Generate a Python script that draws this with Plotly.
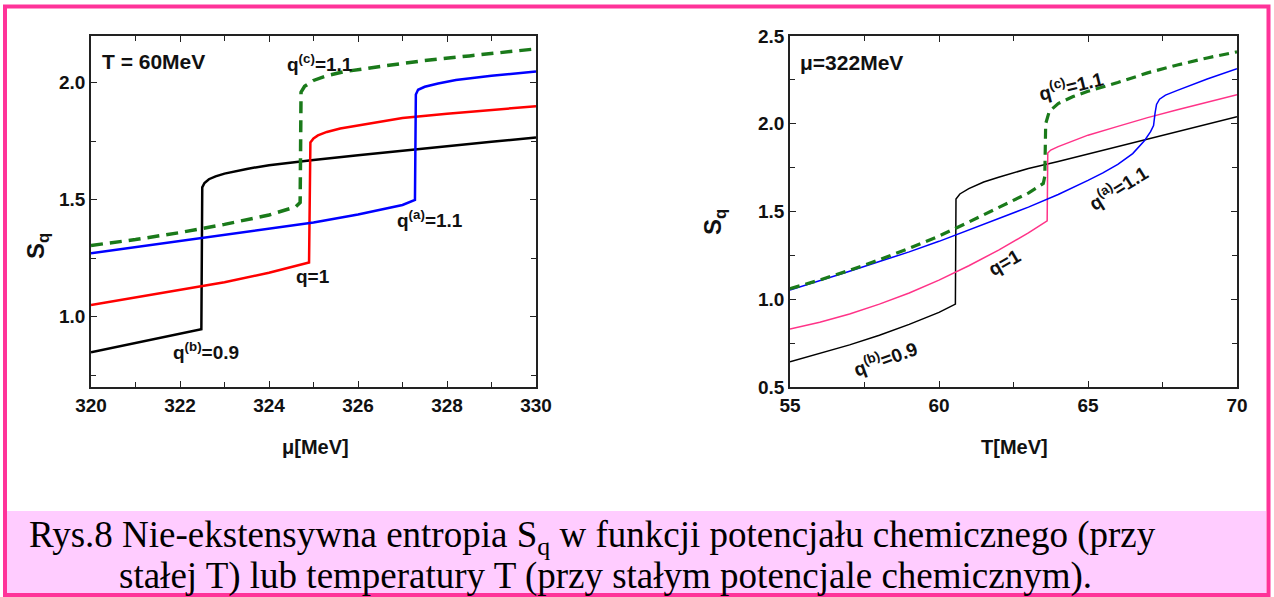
import plotly.graph_objects as go

# ---------------- data: left panel (T = 60 MeV), x = mu [MeV] ----------------
mu_b = [320, 320.5, 321, 321.5, 322, 322.48, 322.5, 322.55, 322.65, 322.8, 323, 323.5, 324, 324.5, 325, 326, 327, 328, 329, 330]
s_mu_b = [0.848, 0.868, 0.888, 0.907, 0.927, 0.947, 1.553, 1.572, 1.588, 1.600, 1.612, 1.632, 1.648, 1.660, 1.670, 1.690, 1.710, 1.728, 1.748, 1.766]

mu_1 = [320, 321, 322, 323, 324, 324.9, 324.93, 325, 325.1, 325.3, 325.6, 326, 327, 328, 329, 330]
s_mu_1 = [1.05, 1.083, 1.113, 1.148, 1.188, 1.232, 1.745, 1.762, 1.775, 1.79, 1.805, 1.818, 1.85, 1.868, 1.885, 1.90]

mu_a = [320, 321, 322, 323, 324, 325, 326, 327, 327.28, 327.3, 327.35, 327.5, 327.8, 328.2, 329, 330]
s_mu_a = [1.272, 1.298, 1.322, 1.348, 1.374, 1.403, 1.437, 1.478, 1.500, 1.950, 1.970, 1.983, 1.997, 2.012, 2.030, 2.048]

mu_c = [320, 321, 322, 323, 324, 324.6, 324.7, 324.72, 324.8, 325, 325.3, 325.7, 326.5, 327.5, 328.5, 330]
s_mu_c = [1.305, 1.33, 1.36, 1.395, 1.435, 1.47, 1.488, 1.96, 1.985, 2.01, 2.03, 2.048, 2.07, 2.095, 2.115, 2.145]

# ---------------- data: right panel (mu = 322 MeV), x = T [MeV] ----------------
t_b = [55, 56, 57, 58, 59, 60, 60.55, 60.57, 60.7, 61, 61.5, 62, 63, 64, 65, 66, 67, 68, 69, 70]
s_t_b = [0.644, 0.69, 0.74, 0.795, 0.857, 0.925, 0.972, 1.571, 1.60, 1.63, 1.668, 1.695, 1.745, 1.785, 1.828, 1.87, 1.915, 1.956, 1.997, 2.04]

t_1 = [55, 56, 57, 58, 59, 60, 61, 62, 63, 63.63, 63.65, 63.75, 64, 64.3, 65, 66, 67, 68, 69, 70]
s_t_1 = [0.831, 0.869, 0.916, 0.972, 1.036, 1.109, 1.191, 1.280, 1.378, 1.447, 1.833, 1.85, 1.87, 1.89, 1.935, 1.985, 2.035, 2.08, 2.125, 2.166]

t_a = [55, 56, 57, 58, 59, 60, 61, 62, 63, 64, 64.5, 65, 65.5, 66, 66.5, 66.9, 67.1, 67.2, 67.25, 67.3, 67.4, 67.6, 68, 69, 70]
s_t_a = [1.053, 1.105, 1.16, 1.215, 1.27, 1.33, 1.395, 1.46, 1.525, 1.597, 1.636, 1.677, 1.72, 1.768, 1.83, 1.905, 1.955, 1.99, 2.06, 2.11, 2.14, 2.163, 2.19, 2.255, 2.314]

t_c = [55, 56, 57, 58, 59, 60, 61, 62, 63, 63.5, 63.55, 63.58, 63.7, 64, 64.5, 65, 66, 67, 68, 69, 70]
s_t_c = [1.06, 1.11, 1.165, 1.225, 1.29, 1.36, 1.44, 1.52, 1.605, 1.66, 1.70, 2.0, 2.07, 2.115, 2.155, 2.185, 2.235, 2.29, 2.335, 2.375, 2.41]

W, H = 1274, 597
FONT = "Liberation Sans, Arial, sans-serif"
PINK = "#FF3399"

fig = go.Figure()

def add(x, y, color, width, xa, ya, dash=None):
    fig.add_trace(go.Scatter(x=x, y=y, mode="lines", xaxis=xa, yaxis=ya,
                             line=dict(color=color, width=width, dash=dash),
                             showlegend=False, hoverinfo="skip"))

# left
add(mu_b, s_mu_b, "#000000", 2.5, "x", "y")
add(mu_1, s_mu_1, "#FF0000", 2.5, "x", "y")
add(mu_a, s_mu_a, "#0000FF", 2.5, "x", "y")
add(mu_c, s_mu_c, "#1A7A1A", 3.5, "x", "y", dash="12px,7px")
# right
add(t_b, s_t_b, "#000000", 1.5, "x2", "y2")
add(t_1, s_t_1, "#FF3388", 1.5, "x2", "y2")
add(t_a, s_t_a, "#0000FF", 1.5, "x2", "y2")
add(t_c, s_t_c, "#1A7A1A", 3.2, "x2", "y2", dash="10px,6px")

def px(x):
    return x / W

def py(y):
    return 1 - y / H

axis_common = dict(showline=True, linecolor="#222", linewidth=1.5, mirror="ticks",
                   ticks="inside", ticklen=6, tickwidth=1.2, tickcolor="#222",
                   showgrid=False, zeroline=False, automargin=False,
                   tickfont=dict(family=FONT, size=19, color="#111", weight="bold"))

fig.update_layout(
    template="none",
    width=W, height=H, autosize=False,
    margin=dict(l=0, r=0, t=0, b=0, pad=0, autoexpand=False),
    showlegend=False,
    paper_bgcolor="white", plot_bgcolor="white",
    xaxis=dict(domain=[px(91), px(536)], range=[320, 330], dtick=2, tick0=320, anchor="y",
               minor=dict(dtick=1, ticks="inside", ticklen=5, tickcolor="#222"), **axis_common),
    yaxis=dict(domain=[py(387), py(36)], range=[0.7, 2.2], dtick=0.5, tick0=0, tickformat=".1f", anchor="x",
               minor=dict(dtick=0.25, ticks="inside", ticklen=5, tickcolor="#222"), **axis_common),
    xaxis2=dict(domain=[px(790), px(1237)], range=[55, 70], dtick=5, tick0=55, anchor="y2",
                minor=dict(dtick=2.5, ticks="inside", ticklen=5, tickcolor="#222"), **axis_common),
    yaxis2=dict(domain=[py(387), py(36)], range=[0.5, 2.5], dtick=0.5, tick0=0, tickformat=".1f", anchor="x2",
                minor=dict(dtick=0.25, ticks="inside", ticklen=5, tickcolor="#222"), **axis_common),
)

shapes = [
    # caption background
    dict(type="rect", xref="paper", yref="paper", x0=px(7), x1=px(1266), y0=py(594), y1=py(511),
         fillcolor="#FFCCFF", line=dict(width=0), layer="below"),
    # outer pink frame
    dict(type="rect", xref="paper", yref="paper", x0=px(5), x1=px(1268.5), y0=py(595), y1=py(6.5),
         line=dict(color=PINK, width=4), fillcolor="rgba(0,0,0,0)"),
]
fig.update_layout(shapes=shapes)

ann = []

def label(text, x, y, xref, yref, size=19, angle=0, xanchor="center"):
    ann.append(dict(text=text, x=x, y=y, xref=xref, yref=yref, showarrow=False,
                    textangle=angle, xanchor=xanchor, yanchor="middle",
                    font=dict(family=FONT, size=size, color="#111", weight="bold")))

SUP = "<sup>{}</sup>"

# left panel labels
label("T = 60MeV", 320.2, 2.09, "x", "y", size=21, xanchor="left")
label("q" + SUP.format("(c)") + "=1.1", 325.15, 2.085, "x", "y")
label("q" + SUP.format("(a)") + "=1.1", 327.62, 1.419, "x", "y")
label("q=1", 324.99, 1.171, "x", "y")
label("q" + SUP.format("(b)") + "=0.9", 322.58, 0.855, "x", "y")
# right panel labels
label("\u03bc=322MeV", 55.27, 2.348, "x2", "y2", size=21, xanchor="left")
label("q" + SUP.format("(c)") + "=1.1", 64.43, 2.223, "x2", "y2", angle=-14)
label("q" + SUP.format("(a)") + "=1.1", 66.01, 1.641, "x2", "y2", angle=-32)
label("q=1", 62.21, 1.207, "x2", "y2", angle=-30)
label("q" + SUP.format("(b)") + "=0.9", 58.19, 0.665, "x2", "y2", angle=-20)

# axis titles
label("\u03bc[MeV]", px(315), py(447), "paper", "paper", size=20)
label("T[MeV]", px(1014), py(447), "paper", "paper", size=20)
label("S<sub>q</sub>", px(37), py(246), "paper", "paper", size=24, angle=-90)
label("S<sub>q</sub>", px(714), py(222), "paper", "paper", size=24, angle=-90)

# caption
CAP = "Liberation Serif, Times New Roman, serif"
ann.append(dict(text="Rys.8 Nie-ekstensywna entropia S<sub>q</sub> w funkcji potencja\u0142u chemicznego (przy",
                x=px(27), y=py(537), xref="paper", yref="paper", showarrow=False,
                xanchor="left", yanchor="middle", font=dict(family=CAP, size=37, color="#000")))
ann.append(dict(text="sta\u0142ej T) lub temperatury T (przy sta\u0142ym potencjale chemicznym).",
                x=px(117), y=py(576), xref="paper", yref="paper", showarrow=False,
                xanchor="left", yanchor="middle", font=dict(family=CAP, size=37, color="#000")))

fig.update_layout(annotations=ann)

fig.write_html("out.html",
               post_script="document.body.style.margin='0';document.body.style.overflow='hidden';"
                           "document.documentElement.style.overflow='hidden';")
